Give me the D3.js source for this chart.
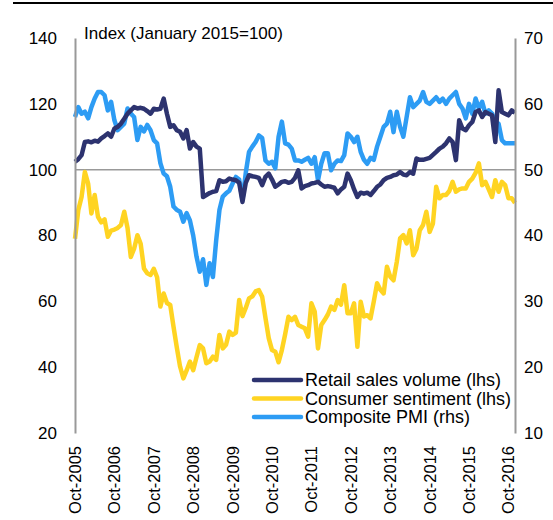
<!DOCTYPE html>
<html>
<head>
<meta charset="utf-8">
<script src="https://cdn.jsdelivr.net/npm/d3@7"></script>
<style>
  body { margin: 0; background: #fff; overflow: hidden; }
  text { font-family: "Liberation Sans", Arial, sans-serif; }
</style>
</head>
<body>
<div id="plot"></div>
<script>
const w = 553;
const h = 520;
const margin = { top: 38, right: 38, bottom: 87, left: 75 };
const innerWidth = w - margin.left - margin.right;
const innerHeight = h - margin.top - margin.bottom;

// monthly, Oct-2005 .. Dec-2016
const retailSales = [
  102.4, 103.2, 104.4, 108.4, 108.6, 108.3, 108.8, 108.5, 109.5, 110.2, 111, 110,
  112.5, 113, 114, 115.5, 117, 118, 119, 118.6, 118.8, 118.5, 117.8, 117,
  118.5, 118.3, 118.5, 121.6, 117, 113, 113.5, 112, 111.5, 109.5, 112, 106.4,
  108.4, 107, 106.4, 91.7, 92.3, 92.9, 93.3, 93.5, 96.8, 96.3, 96.5, 97.3,
  97, 96.8, 96, 90.2, 96, 98.3, 98, 97.8, 97.5, 95.3, 97.8, 98.8,
  97, 94.8, 95.5, 96.3, 96.5, 96, 96.3, 97.5, 99.8, 94.3, 95, 95.3,
  95.8, 96, 96.3, 95.5, 94.8, 95, 94.8, 94.5, 92.8, 94, 94.8, 98.8,
  96.8, 94, 91.7, 93, 92.7, 93, 92.3, 93.5, 94.8, 95.5, 96.8, 97.5,
  97.8, 98.3, 98.5, 99.3, 98.5, 98.3, 99.3, 98.8, 103.4, 103, 103, 103.3,
  103.6, 104.5, 105.4, 106.4, 107, 108, 109.5, 108.4, 102.9, 115, 112.5, 112,
  113.5, 114.5, 117.5, 118, 116, 117.5, 117, 116.5, 108.4, 124.1, 117.5, 117,
  116.5, 118, 117.3
];

const consumerSentiment = [
  79, 87.7, 91.7, 99.3, 95.8, 86.7, 92.3, 85.7, 84, 84.9, 79.6, 81.5,
  81.8, 82.3, 83.2, 87.2, 82.3, 73.5, 76, 80.1, 77.5, 70, 68.5, 68,
  69.9, 67.3, 58.4, 62.4, 59.5, 58.9, 52.3, 46, 40.2, 36.6, 39, 41.7,
  39.1, 43, 46.7, 45.7, 41.2, 41.7, 43.2, 42.2, 49.8, 45.7, 46.8, 50.8,
  49.8, 50.5, 60.4, 55.5, 58, 60.9, 61.5, 63, 63.4, 61.4, 55, 48.8,
  45.2, 44.7, 41.5, 45.2, 50, 55.3, 54.3, 55.3, 52.8, 52.3, 51.8, 49.3,
  59.4, 56.9, 45.7, 52.8, 54.3, 56, 58.4, 57.4, 60.4, 59, 64.9, 56.4,
  56.4, 59.4, 46.2, 59.9, 55.4, 55.8, 54.8, 60, 65.5, 63.5, 62.4, 70.5,
  67.5, 66.4, 72, 79.1, 80.1, 77.6, 81.6, 74, 76, 81.6, 83.2, 87.2,
  81.1, 83.6, 94.8, 91.3, 92.3, 92.3, 93.5, 96.3, 93.3, 94, 94.3, 94.3,
  96.3, 97.3, 99, 101.9, 95.3, 96.3, 94, 91.7, 96.8, 93.3, 96.3, 95.3,
  91.3, 91.3, 89.9
];

const compositePMI = [
  58, 59.5, 58.5, 58.8, 57.8, 59.5, 60.8, 61.8, 61.8, 61.3, 59, 60.3,
  57.5, 56, 56.5, 57, 59.3, 58.5, 58, 54.5, 56.5, 55.8, 56.8, 56,
  54.5, 54, 51, 49.4, 49, 47.4, 44.4, 43.9, 43.6, 42.1, 43.4, 42.3,
  40, 36.8, 34.5, 36.4, 32.5, 35.8, 33.7, 39.3, 43.9, 45.9, 46.4, 46.8,
  47.9, 48.9, 48.5, 45.4, 49.5, 52.7, 53.5, 54.2, 55.2, 54.8, 51.4, 50.9,
  51.2, 50.2, 55, 57.3, 54, 53.8, 53.2, 51.4, 51.4, 51.2, 51.5, 51.8,
  50.9, 51.9, 48.4, 50.9, 52.5, 52.5, 49.9, 50.9, 51.4, 51.3, 52.2, 55.5,
  55, 54.2, 55, 52.7, 51.5, 50.9, 51.8, 51.5, 53.5, 55, 56.5, 57,
  58.8, 55.7, 58.8, 56.5, 55, 58, 61, 59.5, 60, 60.5, 61.8, 60.3,
  60, 60.5, 61, 60.3, 60.8, 60, 60.8, 61.3, 61.8, 60, 59.3, 57.8,
  60, 58.5, 60.8, 59.3, 60.3, 58.5, 59, 58.5, 57.3, 57, 54.5, 54,
  54, 54, 54
];

const xTickLabels = ["Oct-2005", "Oct-2006", "Oct-2007", "Oct-2008", "Oct-2009", "Oct-2010",
  "Oct-2011", "Oct-2012", "Oct-2013", "Oct-2014", "Oct-2015", "Oct-2016"];
const leftTicks = [20, 40, 60, 80, 100, 120, 140];
const rightTicks = [10, 20, 30, 40, 50, 60, 70];

const seriesNames = ["Retail sales volume (lhs)", "Consumer sentiment (lhs)", "Composite PMI (rhs)"];
const colors = ["#2d336f", "#ffd422", "#2d9cf4"];

const svg = d3.select("div#plot")
  .append("svg")
  .attr("width", w)
  .attr("height", h)
  .style("display", "block");

const xScale = d3.scaleLinear()
  .domain([0, retailSales.length - 1])
  .range([0, innerWidth]);

const yLeft = d3.scaleLinear().domain([20, 140]).range([innerHeight, 0]);
const yRight = d3.scaleLinear().domain([10, 70]).range([innerHeight, 0]);

// top rule
svg.append("line")
  .attr("x1", 13).attr("x2", w)
  .attr("y1", 3).attr("y2", 3)
  .attr("stroke", "#000")
  .attr("stroke-width", 2);

const plotGroup = svg.append("g")
  .attr("transform", `translate(${margin.left}, ${margin.top})`);

// 100 reference line
plotGroup.append("line")
  .attr("x1", 0).attr("x2", innerWidth)
  .attr("y1", yLeft(100)).attr("y2", yLeft(100))
  .attr("stroke", "#999")
  .attr("stroke-width", 1.5);

const lineLeft = d3.line()
  .x((d, i) => xScale(i))
  .y(d => yLeft(d));
const lineRight = d3.line()
  .x((d, i) => xScale(i))
  .y(d => yRight(d));

plotGroup.append("path")
  .datum(compositePMI)
  .attr("d", lineRight)
  .attr("fill", "none")
  .attr("stroke", colors[2])
  .attr("stroke-width", 4.5)
  .attr("stroke-linejoin", "round");

plotGroup.append("path")
  .datum(consumerSentiment)
  .attr("d", lineLeft)
  .attr("fill", "none")
  .attr("stroke", colors[1])
  .attr("stroke-width", 4.5)
  .attr("stroke-linejoin", "round");

plotGroup.append("path")
  .datum(retailSales)
  .attr("d", lineLeft)
  .attr("fill", "none")
  .attr("stroke", colors[0])
  .attr("stroke-width", 4.5)
  .attr("stroke-linejoin", "round");

// axes
const yAxisLeft = d3.axisLeft(yLeft).tickValues(leftTicks).tickSize(0).tickPadding(18);
const yAxisRight = d3.axisRight(yRight).tickValues(rightTicks).tickSize(0).tickPadding(9);

const gl = plotGroup.append("g").call(yAxisLeft);
const gr = plotGroup.append("g").attr("transform", `translate(${innerWidth}, 0)`).call(yAxisRight);

[gl, gr].forEach(g => {
  g.select(".domain").attr("stroke", "#999").attr("stroke-width", 2);
  g.selectAll("text")
    .attr("font-size", "17px")
    .attr("fill", "#000")
    .attr("font-family", "Liberation Sans, Arial, sans-serif");
});

// x tick labels
plotGroup.selectAll(".xlab")
  .data(xTickLabels)
  .enter()
  .append("text")
  .attr("class", "xlab")
  .attr("transform", (d, i) => `translate(${xScale(i * 12) + 6}, ${innerHeight + 13}) rotate(-90)`)
  .attr("text-anchor", "end")
  .attr("font-size", "16.5px")
  .attr("fill", "#000")
  .text(d => d);

// title
svg.append("text")
  .attr("x", 84)
  .attr("y", 39)
  .attr("font-size", "17px")
  .attr("fill", "#000")
  .text("Index (January 2015=100)");

// legend
const legend = svg.append("g")
  .attr("transform", "translate(254, 380)");

legend.selectAll("line")
  .data(seriesNames)
  .enter()
  .append("line")
  .attr("x1", 0).attr("x2", 47)
  .attr("y1", (d, i) => i * 18.5)
  .attr("y2", (d, i) => i * 18.5)
  .attr("stroke", (d, i) => colors[i])
  .attr("stroke-width", 4.5)
  .attr("stroke-linecap", "round");

legend.selectAll("text")
  .data(seriesNames)
  .enter()
  .append("text")
  .attr("x", 51)
  .attr("y", (d, i) => i * 18.5 + 6)
  .attr("font-size", "18px")
  .attr("fill", "#000")
  .text(d => d);
</script>
</body>
</html>
